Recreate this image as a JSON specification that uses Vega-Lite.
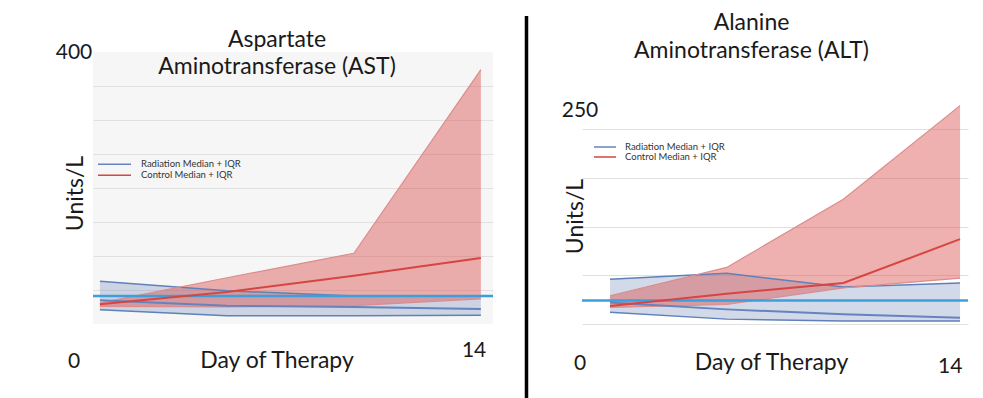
{
  "$schema": "https://vega.github.io/schema/vega-lite/v6.json",
  "background": "#ffffff",
  "padding": {"left": 55, "top": 12, "right": 5, "bottom": 0},
  "config": {
    "font": "Lato",
    "view": {"stroke": null},
    "axis": {"labelFont": "Lato", "titleFont": "Lato", "labelColor": "#1a1a1a", "titleColor": "#1a1a1a", "labelFontSize": 21, "titleFontSize": 23, "titleFontWeight": "normal", "domain": false, "ticks": false, "tickSize": 0, "labelOverlap": false, "labelFlush": false, "gridColor": "#e1e1e1", "gridWidth": 1},
    "title": {"font": "Lato", "fontSize": 23, "fontWeight": "normal", "color": "#1a1a1a", "frame": "group", "anchor": "middle"},
    "legend": {"labelFont": "Lato", "labelColor": "#333333"}
  },
  "bounds": "flush",
  "spacing": 20,
  "resolve": {"scale": {"x": "independent", "y": "independent", "color": "independent"}, "legend": {"color": "independent"}},
  "hconcat": [
    {
      "width": 400, "height": 272,
      "view": {"fill": "#f6f6f6", "stroke": null},
      "title": {"text": ["Aspartate", "Aminotransferase (AST)"], "dx": -16, "offset": -37.5, "lineHeight": 27},
      "data": {"values": [
        {"group": "Radiation", "day": 1, "lo": 21, "med": 35, "hi": 63},
        {"group": "Radiation", "day": 5.4, "lo": 12, "med": 27, "hi": 49},
        {"group": "Radiation", "day": 9.8, "lo": 12, "med": 25, "hi": 41},
        {"group": "Radiation", "day": 14.2, "lo": 13, "med": 22, "hi": 41},
        {"group": "Control", "day": 1, "lo": 26, "med": 29, "hi": 31},
        {"group": "Control", "day": 5.4, "lo": 25, "med": 47, "hi": 68},
        {"group": "Control", "day": 9.8, "lo": 27, "med": 71, "hi": 104},
        {"group": "Control", "day": 14.2, "lo": 37, "med": 97, "hi": 374}
      ]},
      "layer": [
        {
          "transform": [{"filter": "datum.group == 'Radiation'"}],
          "mark": {"type": "area", "color": "#7f93c0", "opacity": 0.35},
          "encoding": {
            "x": {"field": "day", "type": "quantitative", "scale": {"domain": [0.76, 14.62], "nice": false, "zero": false}, "axis": {"values": [14], "grid": false, "labelPadding": 15.5, "labelOffset": -1.5, "title": "Day of Therapy", "titleX": 183.5, "titleY": 43.7, "titleAlign": "center", "titleBaseline": "alphabetic"}},
            "y": {"field": "hi", "type": "quantitative", "scale": {"domain": [0, 400], "nice": false, "zero": true}, "axis": {"values": [0, 50, 100, 150, 200, 250, 300, 350, 400], "labelExpr": "datum.value == 0 || datum.value == 400 ? datum.label : ''", "labelAlign": "center", "labelBaseline": "middle", "labelPadding": 19.5, "labelOffset": {"condition": {"test": "datum.value == 0", "value": 37}, "value": 0}, "grid": true, "gridOpacity": {"condition": {"test": "datum.value == 0 || datum.value == 400", "value": 0}, "value": 1}, "title": "Units/L", "titleX": -18, "titleY": 141, "titleAngle": -90, "titleAlign": "center", "titleBaseline": "middle"}},
            "y2": {"field": "lo"}
          }
        },
        {
          "transform": [{"filter": "datum.group == 'Control'"}],
          "mark": {"type": "area", "color": "#d9534f", "opacity": 0.45},
          "encoding": {
            "x": {"field": "day", "type": "quantitative", "scale": {"domain": [0.76, 14.62], "nice": false, "zero": false}, "axis": {"values": [14], "grid": false, "labelPadding": 15.5, "labelOffset": -1.5, "title": "Day of Therapy", "titleX": 183.5, "titleY": 43.7, "titleAlign": "center", "titleBaseline": "alphabetic"}},
            "y": {"field": "hi", "type": "quantitative", "scale": {"domain": [0, 400], "nice": false, "zero": true}, "axis": {"values": [0, 50, 100, 150, 200, 250, 300, 350, 400], "labelExpr": "datum.value == 0 || datum.value == 400 ? datum.label : ''", "labelAlign": "center", "labelBaseline": "middle", "labelPadding": 19.5, "labelOffset": {"condition": {"test": "datum.value == 0", "value": 37}, "value": 0}, "grid": true, "gridOpacity": {"condition": {"test": "datum.value == 0 || datum.value == 400", "value": 0}, "value": 1}, "title": "Units/L", "titleX": -18, "titleY": 141, "titleAngle": -90, "titleAlign": "center", "titleBaseline": "middle"}},
            "y2": {"field": "lo"}
          }
        },
        {
          "transform": [{"filter": "datum.group == 'Radiation'"}, {"fold": ["lo", "hi"], "as": ["bound", "value"]}],
          "mark": {"type": "line", "strokeWidth": 1.5, "color": "#5f80b8"},
          "encoding": {
            "x": {"field": "day", "type": "quantitative", "scale": {"domain": [0.76, 14.62], "nice": false, "zero": false}, "axis": {"values": [14], "grid": false, "labelPadding": 15.5, "labelOffset": -1.5, "title": "Day of Therapy", "titleX": 183.5, "titleY": 43.7, "titleAlign": "center", "titleBaseline": "alphabetic"}},
            "y": {"field": "value", "type": "quantitative", "scale": {"domain": [0, 400], "nice": false, "zero": true}, "axis": {"values": [0, 50, 100, 150, 200, 250, 300, 350, 400], "labelExpr": "datum.value == 0 || datum.value == 400 ? datum.label : ''", "labelAlign": "center", "labelBaseline": "middle", "labelPadding": 19.5, "labelOffset": {"condition": {"test": "datum.value == 0", "value": 37}, "value": 0}, "grid": true, "gridOpacity": {"condition": {"test": "datum.value == 0 || datum.value == 400", "value": 0}, "value": 1}, "title": "Units/L", "titleX": -18, "titleY": 141, "titleAngle": -90, "titleAlign": "center", "titleBaseline": "middle"}},
            "detail": {"field": "bound"}
          }
        },
        {
          "transform": [{"filter": "datum.group == 'Control'"}, {"fold": ["lo", "hi"], "as": ["bound", "value"]}],
          "mark": {"type": "line", "strokeWidth": 1.2, "color": "#dc8c8c"},
          "encoding": {
            "x": {"field": "day", "type": "quantitative", "scale": {"domain": [0.76, 14.62], "nice": false, "zero": false}, "axis": {"values": [14], "grid": false, "labelPadding": 15.5, "labelOffset": -1.5, "title": "Day of Therapy", "titleX": 183.5, "titleY": 43.7, "titleAlign": "center", "titleBaseline": "alphabetic"}},
            "y": {"field": "value", "type": "quantitative", "scale": {"domain": [0, 400], "nice": false, "zero": true}, "axis": {"values": [0, 50, 100, 150, 200, 250, 300, 350, 400], "labelExpr": "datum.value == 0 || datum.value == 400 ? datum.label : ''", "labelAlign": "center", "labelBaseline": "middle", "labelPadding": 19.5, "labelOffset": {"condition": {"test": "datum.value == 0", "value": 37}, "value": 0}, "grid": true, "gridOpacity": {"condition": {"test": "datum.value == 0 || datum.value == 400", "value": 0}, "value": 1}, "title": "Units/L", "titleX": -18, "titleY": 141, "titleAngle": -90, "titleAlign": "center", "titleBaseline": "middle"}},
            "detail": {"field": "bound"}
          }
        },
        {
          "data": {"values": [{"ref": 41}]},
          "mark": {"type": "rule", "color": "#3d9fd9", "strokeWidth": 2.5},
          "encoding": {
            "y": {"field": "ref", "type": "quantitative", "scale": {"domain": [0, 400], "nice": false, "zero": true}, "axis": {"values": [0, 50, 100, 150, 200, 250, 300, 350, 400], "labelExpr": "datum.value == 0 || datum.value == 400 ? datum.label : ''", "labelAlign": "center", "labelBaseline": "middle", "labelPadding": 19.5, "labelOffset": {"condition": {"test": "datum.value == 0", "value": 37}, "value": 0}, "grid": true, "gridOpacity": {"condition": {"test": "datum.value == 0 || datum.value == 400", "value": 0}, "value": 1}, "title": "Units/L", "titleX": -18, "titleY": 141, "titleAngle": -90, "titleAlign": "center", "titleBaseline": "middle"}}
          }
        },
        {
          "mark": {"type": "line", "strokeWidth": 2},
          "encoding": {
            "x": {"field": "day", "type": "quantitative", "scale": {"domain": [0.76, 14.62], "nice": false, "zero": false}, "axis": {"values": [14], "grid": false, "labelPadding": 15.5, "labelOffset": -1.5, "title": "Day of Therapy", "titleX": 183.5, "titleY": 43.7, "titleAlign": "center", "titleBaseline": "alphabetic"}},
            "y": {"field": "med", "type": "quantitative", "scale": {"domain": [0, 400], "nice": false, "zero": true}, "axis": {"values": [0, 50, 100, 150, 200, 250, 300, 350, 400], "labelExpr": "datum.value == 0 || datum.value == 400 ? datum.label : ''", "labelAlign": "center", "labelBaseline": "middle", "labelPadding": 19.5, "labelOffset": {"condition": {"test": "datum.value == 0", "value": 37}, "value": 0}, "grid": true, "gridOpacity": {"condition": {"test": "datum.value == 0 || datum.value == 400", "value": 0}, "value": 1}, "title": "Units/L", "titleX": -18, "titleY": 141, "titleAngle": -90, "titleAlign": "center", "titleBaseline": "middle"}},
            "color": {"field": "group", "type": "nominal", "scale": {"domain": ["Radiation", "Control"], "range": ["#6584bd", "#d64541"]}, "legend": {"title": null, "orient": "none", "legendX": 4, "legendY": 107, "symbolType": "stroke", "symbolSize": 1089, "symbolStrokeWidth": 1.5, "clipHeight": 10.5, "rowPadding": 0, "padding": 0, "labelFontSize": 9.5, "labelOffset": 9, "labelLimit": 400, "labelExpr": "datum.label + ' Median + IQR'"}}
          }
        }
      ]
    },
    {
      "width": 49, "height": 272,
      "data": {"values": [{}]},
      "mark": {"type": "rule", "color": "#000000", "strokeWidth": 3.5},
      "encoding": {
        "x": {"datum": 13.5, "type": "quantitative", "scale": {"domain": [0, 49]}, "axis": null},
        "y": {"datum": 308, "type": "quantitative", "scale": {"domain": [0, 272]}, "axis": null},
        "y2": {"datum": -80}
      }
    },
    {
      "width": 386, "height": 272,
      "title": {"text": ["Alanine", "Aminotransferase (ALT)"], "dx": -23.5, "offset": -11, "lineHeight": 28},
      "data": {"values": [
        {"group": "Radiation", "day": 1, "lo": 12, "med": 22, "hi": 46},
        {"group": "Radiation", "day": 5.4, "lo": 5, "med": 15, "hi": 52},
        {"group": "Radiation", "day": 9.8, "lo": 3, "med": 10, "hi": 38},
        {"group": "Radiation", "day": 14.2, "lo": 3, "med": 6.5, "hi": 42},
        {"group": "Control", "day": 1, "lo": 17, "med": 18.5, "hi": 29},
        {"group": "Control", "day": 5.4, "lo": 20, "med": 31, "hi": 58},
        {"group": "Control", "day": 9.8, "lo": 37, "med": 42, "hi": 128},
        {"group": "Control", "day": 14.2, "lo": 47, "med": 87, "hi": 224}
      ]},
      "layer": [
        {
          "transform": [{"filter": "datum.group == 'Radiation'"}],
          "mark": {"type": "area", "color": "#7f93c0", "opacity": 0.35},
          "encoding": {
            "x": {"field": "day", "type": "quantitative", "scale": {"domain": [-0.057, 14.5], "nice": false, "zero": false}, "axis": {"values": [14], "grid": false, "labelPadding": 31, "labelOffset": -5, "title": "Day of Therapy", "titleX": 189, "titleY": 45, "titleAlign": "center", "titleBaseline": "alphabetic"}},
            "y": {"field": "hi", "type": "quantitative", "scale": {"domain": [0, 279], "nice": false, "zero": true}, "axis": {"values": [0, 50, 100, 150, 200, 250], "labelExpr": "datum.value == 0 || datum.value == 250 ? datum.label : ''", "labelAlign": "center", "labelBaseline": "middle", "labelPadding": 2.5, "labelOffset": {"condition": {"test": "datum.value == 0", "value": 39}, "value": 30}, "grid": true, "gridOpacity": {"condition": {"test": "datum.value == 250", "value": 0}, "value": 1}, "title": "Units/L", "titleX": -7, "titleY": 164, "titleAngle": -90, "titleAlign": "center", "titleBaseline": "middle"}},
            "y2": {"field": "lo"}
          }
        },
        {
          "transform": [{"filter": "datum.group == 'Control'"}],
          "mark": {"type": "area", "color": "#d9534f", "opacity": 0.45},
          "encoding": {
            "x": {"field": "day", "type": "quantitative", "scale": {"domain": [-0.057, 14.5], "nice": false, "zero": false}, "axis": {"values": [14], "grid": false, "labelPadding": 31, "labelOffset": -5, "title": "Day of Therapy", "titleX": 189, "titleY": 45, "titleAlign": "center", "titleBaseline": "alphabetic"}},
            "y": {"field": "hi", "type": "quantitative", "scale": {"domain": [0, 279], "nice": false, "zero": true}, "axis": {"values": [0, 50, 100, 150, 200, 250], "labelExpr": "datum.value == 0 || datum.value == 250 ? datum.label : ''", "labelAlign": "center", "labelBaseline": "middle", "labelPadding": 2.5, "labelOffset": {"condition": {"test": "datum.value == 0", "value": 39}, "value": 30}, "grid": true, "gridOpacity": {"condition": {"test": "datum.value == 250", "value": 0}, "value": 1}, "title": "Units/L", "titleX": -7, "titleY": 164, "titleAngle": -90, "titleAlign": "center", "titleBaseline": "middle"}},
            "y2": {"field": "lo"}
          }
        },
        {
          "transform": [{"filter": "datum.group == 'Radiation'"}, {"fold": ["lo", "hi"], "as": ["bound", "value"]}],
          "mark": {"type": "line", "strokeWidth": 1.5, "color": "#5f80b8"},
          "encoding": {
            "x": {"field": "day", "type": "quantitative", "scale": {"domain": [-0.057, 14.5], "nice": false, "zero": false}, "axis": {"values": [14], "grid": false, "labelPadding": 31, "labelOffset": -5, "title": "Day of Therapy", "titleX": 189, "titleY": 45, "titleAlign": "center", "titleBaseline": "alphabetic"}},
            "y": {"field": "value", "type": "quantitative", "scale": {"domain": [0, 279], "nice": false, "zero": true}, "axis": {"values": [0, 50, 100, 150, 200, 250], "labelExpr": "datum.value == 0 || datum.value == 250 ? datum.label : ''", "labelAlign": "center", "labelBaseline": "middle", "labelPadding": 2.5, "labelOffset": {"condition": {"test": "datum.value == 0", "value": 39}, "value": 30}, "grid": true, "gridOpacity": {"condition": {"test": "datum.value == 250", "value": 0}, "value": 1}, "title": "Units/L", "titleX": -7, "titleY": 164, "titleAngle": -90, "titleAlign": "center", "titleBaseline": "middle"}},
            "detail": {"field": "bound"}
          }
        },
        {
          "transform": [{"filter": "datum.group == 'Control'"}, {"fold": ["lo", "hi"], "as": ["bound", "value"]}],
          "mark": {"type": "line", "strokeWidth": 1.2, "color": "#dc8c8c"},
          "encoding": {
            "x": {"field": "day", "type": "quantitative", "scale": {"domain": [-0.057, 14.5], "nice": false, "zero": false}, "axis": {"values": [14], "grid": false, "labelPadding": 31, "labelOffset": -5, "title": "Day of Therapy", "titleX": 189, "titleY": 45, "titleAlign": "center", "titleBaseline": "alphabetic"}},
            "y": {"field": "value", "type": "quantitative", "scale": {"domain": [0, 279], "nice": false, "zero": true}, "axis": {"values": [0, 50, 100, 150, 200, 250], "labelExpr": "datum.value == 0 || datum.value == 250 ? datum.label : ''", "labelAlign": "center", "labelBaseline": "middle", "labelPadding": 2.5, "labelOffset": {"condition": {"test": "datum.value == 0", "value": 39}, "value": 30}, "grid": true, "gridOpacity": {"condition": {"test": "datum.value == 250", "value": 0}, "value": 1}, "title": "Units/L", "titleX": -7, "titleY": 164, "titleAngle": -90, "titleAlign": "center", "titleBaseline": "middle"}},
            "detail": {"field": "bound"}
          }
        },
        {
          "data": {"values": [{"ref": 24}]},
          "mark": {"type": "rule", "color": "#3d9fd9", "strokeWidth": 2.5},
          "encoding": {
            "y": {"field": "ref", "type": "quantitative", "scale": {"domain": [0, 279], "nice": false, "zero": true}, "axis": {"values": [0, 50, 100, 150, 200, 250], "labelExpr": "datum.value == 0 || datum.value == 250 ? datum.label : ''", "labelAlign": "center", "labelBaseline": "middle", "labelPadding": 2.5, "labelOffset": {"condition": {"test": "datum.value == 0", "value": 39}, "value": 30}, "grid": true, "gridOpacity": {"condition": {"test": "datum.value == 250", "value": 0}, "value": 1}, "title": "Units/L", "titleX": -7, "titleY": 164, "titleAngle": -90, "titleAlign": "center", "titleBaseline": "middle"}}
          }
        },
        {
          "mark": {"type": "line", "strokeWidth": 2},
          "encoding": {
            "x": {"field": "day", "type": "quantitative", "scale": {"domain": [-0.057, 14.5], "nice": false, "zero": false}, "axis": {"values": [14], "grid": false, "labelPadding": 31, "labelOffset": -5, "title": "Day of Therapy", "titleX": 189, "titleY": 45, "titleAlign": "center", "titleBaseline": "alphabetic"}},
            "y": {"field": "med", "type": "quantitative", "scale": {"domain": [0, 279], "nice": false, "zero": true}, "axis": {"values": [0, 50, 100, 150, 200, 250], "labelExpr": "datum.value == 0 || datum.value == 250 ? datum.label : ''", "labelAlign": "center", "labelBaseline": "middle", "labelPadding": 2.5, "labelOffset": {"condition": {"test": "datum.value == 0", "value": 39}, "value": 30}, "grid": true, "gridOpacity": {"condition": {"test": "datum.value == 250", "value": 0}, "value": 1}, "title": "Units/L", "titleX": -7, "titleY": 164, "titleAngle": -90, "titleAlign": "center", "titleBaseline": "middle"}},
            "color": {"field": "group", "type": "nominal", "scale": {"domain": ["Radiation", "Control"], "range": ["#6584bd", "#d64541"]}, "legend": {"title": null, "orient": "none", "legendX": 11, "legendY": 90.5, "symbolType": "stroke", "symbolSize": 484, "symbolStrokeWidth": 1.5, "clipHeight": 9, "rowPadding": 0, "padding": 0, "labelFontSize": 9.5, "labelOffset": 8, "labelLimit": 400, "labelExpr": "datum.label + ' Median + IQR'"}}
          }
        }
      ]
    }
  ]
}
